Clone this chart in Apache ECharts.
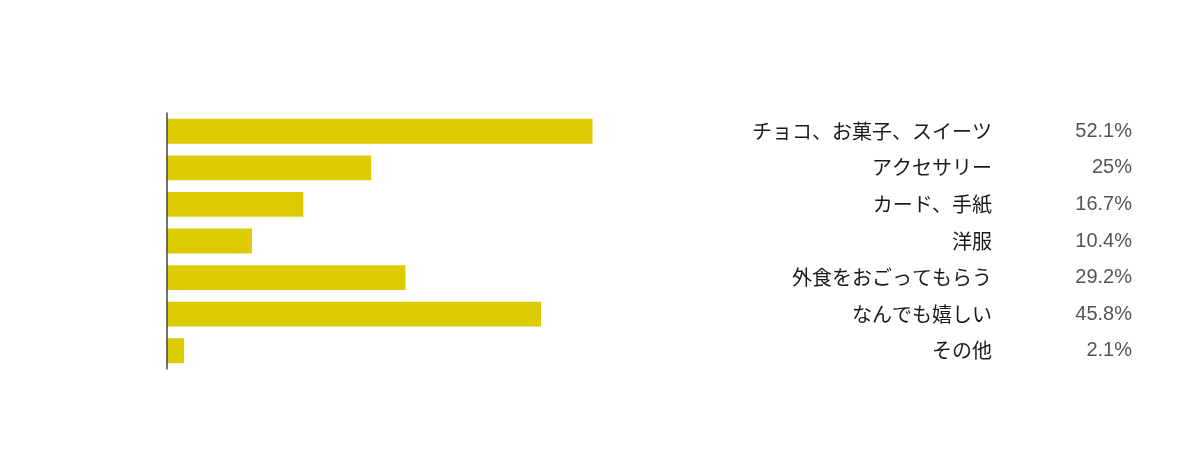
<!DOCTYPE html>
<html>
<head>
<meta charset="utf-8">
<script src="https://cdn.jsdelivr.net/npm/echarts@6/dist/echarts.min.js"></script>
<style>
  html, body { margin: 0; padding: 0; background: #fff; }
  #main { width: 1200px; height: 467px; }
</style>
</head>
<body>
<div id="main"></div>
<script>
// 欲しいプレゼント（回答割合）
const categories = ["チョコ、お菓子、スイーツ", "アクセサリー", "カード、手紙", "洋服", "外食をおごってもらう", "なんでも嬉しい", "その他"];
const percents = [52.1, 25, 16.7, 10.4, 29.2, 45.8, 2.1];

const chart = echarts.init(document.getElementById("main"));

chart.setOption({
  backgroundColor: "#fff",
  animation: false,
  grid: { left: 167, top: 113, width: 490, height: 256 },
  xAxis: {
    type: "value",
    min: 0,
    max: 60,
    show: false
  },
  yAxis: [
    {
      type: "category",
      data: categories,
      inverse: true,
      position: "left",
      z: 5,
      axisLine: { show: true, lineStyle: { color: "#444", width: 1.5 } },
      axisTick: { show: false },
      axisLabel: { show: false }
    },
    {
      type: "category",
      data: categories,
      inverse: true,
      position: "right",
      axisLine: { show: false },
      axisTick: { show: false },
      axisLabel: {
        align: "right",
        margin: 335,
        color: "#1a1a1a",
        fontSize: 20,
        fontFamily: "Noto Sans CJK JP"
      }
    },
    {
      type: "category",
      data: categories,
      inverse: true,
      position: "right",
      axisLine: { show: false },
      axisTick: { show: false },
      axisLabel: {
        align: "right",
        margin: 475,
        color: "#555",
        fontSize: 20,
        fontFamily: "Liberation Sans",
        formatter: (v, i) => percents[i] + "%"
      }
    }
  ],
  series: [
    {
      type: "bar",
      data: percents,
      barCategoryGap: "32%",
      itemStyle: { color: "#dccb00" }
    }
  ]
});
</script>
</body>
</html>
